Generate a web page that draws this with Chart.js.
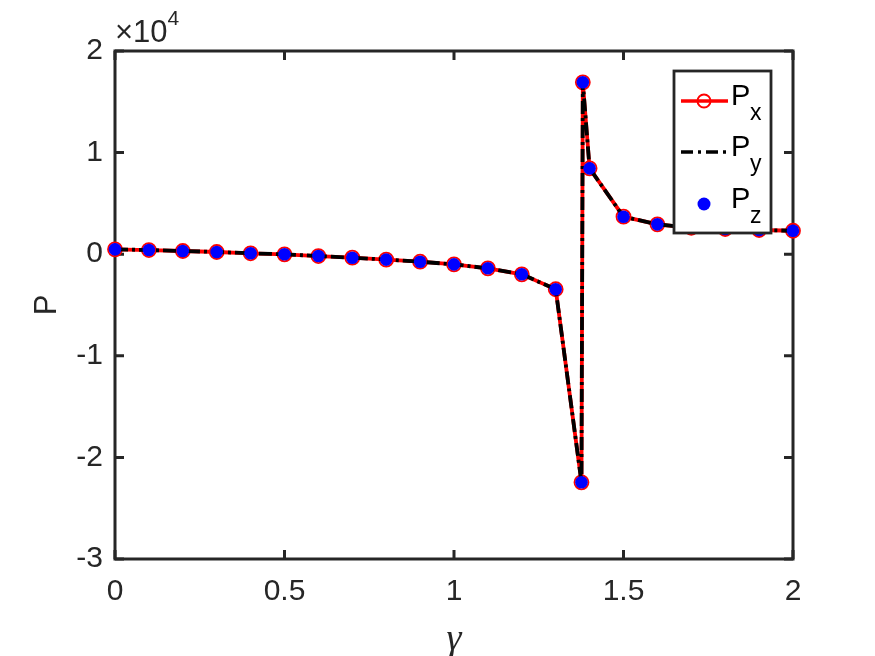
<!DOCTYPE html>
<html>
<head>
<meta charset="utf-8">
<script src="https://cdn.jsdelivr.net/npm/chart.js@4.4.1/dist/chart.umd.min.js"></script>
<style>
  html, body { margin: 0; padding: 0; background: #fff; }
  #wrap { width: 875px; height: 656px; }
</style>
</head>
<body>
<div id="wrap"><canvas id="chart" width="875" height="656"></canvas></div>
<script>
// --- data ---
const gammaVals = [0, 0.1, 0.2, 0.3, 0.4, 0.5, 0.6, 0.7, 0.8, 0.9, 1.0, 1.1, 1.2, 1.3,
                   1.376, 1.38, 1.4, 1.5, 1.6, 1.7, 1.8, 1.9, 2.0];
const pxVals = [480, 410, 315, 217, 90, -10, -180, -345, -530, -740, -1000, -1390, -1980, -3450,
                -22450, 16920, 8450, 3690, 2940, 2600, 2480, 2380, 2310];
const pyVals = [480, 410, 315, 217, 90, -10, -180, -345, -530, -740, -1000, -1390, -1980, -3450,
                -22450, 16920, 8450, 3690, 2940, 2600, 2480, 2380, 2310];
const pzVals = [480, 410, 315, 217, 90, -10, -180, -345, -530, -740, -1000, -1390, -1980, -3450,
                -22450, 16920, 8450, 3690, 2940, 2600, 2480, 2380, 2310];
const xTicks = [0, 0.5, 1, 1.5, 2];
const yTicks = [-30000, -20000, -10000, 0, 10000, 20000];
const yScaleExp = 4;

const AXIS_COLOR = '#262626';
const FONT = '"Liberation Sans", Arial, sans-serif';

const toPts = (vals) => gammaVals.map((g, i) => ({ x: g, y: vals[i] }));

// frame + inward ticks, drawn under the data (markers sit on top of the box)
const framePlugin = {
    id: 'frame',
    beforeDatasetsDraw(chart) {
        const { ctx, chartArea: a, scales } = chart;
        ctx.save();
        ctx.strokeStyle = AXIS_COLOR;
        ctx.lineWidth = 3;
        ctx.strokeRect(a.left, a.top, a.right - a.left, a.bottom - a.top);
        const tl = 9;
        ctx.beginPath();
        xTicks.forEach(v => {
            const x = scales.x.getPixelForValue(v);
            ctx.moveTo(x, a.bottom); ctx.lineTo(x, a.bottom - tl);
            ctx.moveTo(x, a.top); ctx.lineTo(x, a.top + tl);
        });
        yTicks.forEach(v => {
            const y = scales.y.getPixelForValue(v);
            ctx.moveTo(a.left, y); ctx.lineTo(a.left + tl, y);
            ctx.moveTo(a.right, y); ctx.lineTo(a.right - tl, y);
        });
        ctx.stroke();
        ctx.restore();
    },
    afterDraw(chart) {
        const { ctx, chartArea: a } = chart;
        ctx.save();
        ctx.fillStyle = AXIS_COLOR;
        // x10^4 multiplier
        ctx.font = '31px ' + FONT;
        ctx.textBaseline = 'alphabetic';
        ctx.textAlign = 'left';
        ctx.fillText('\u00d710', a.left, 42);
        const w = ctx.measureText('\u00d710').width;
        ctx.font = '21px ' + FONT;
        ctx.fillText(String(yScaleExp), a.left + w, 25);

        // y title
        ctx.save();
        ctx.font = '31px ' + FONT;
        ctx.translate(56, (a.top + a.bottom) / 2);
        ctx.rotate(-Math.PI / 2);
        ctx.textAlign = 'center';
        ctx.fillText('P', 0, 0);
        ctx.restore();

        // x title
        ctx.font = 'italic 38px "Liberation Serif", "Times New Roman", serif';
        ctx.textAlign = 'center';
        ctx.fillText('\u03b3', (a.left + a.right) / 2, 650);

        // legend
        const bx = 674, by = 71, bw = 97, bh = 162;
        ctx.fillStyle = '#fff';
        ctx.fillRect(bx, by, bw, bh);
        ctx.strokeStyle = AXIS_COLOR;
        ctx.lineWidth = 2.8;
        ctx.strokeRect(bx, by, bw, bh);

        const rows = [
            { sub: 'x', ly: 101 },
            { sub: 'y', ly: 152 },
            { sub: 'z', ly: 204 }
        ];
        // Px sample: red line with open circle
        ctx.strokeStyle = 'red';
        ctx.lineWidth = 3.4;
        ctx.beginPath(); ctx.moveTo(681, rows[0].ly); ctx.lineTo(728, rows[0].ly); ctx.stroke();
        ctx.lineWidth = 2;
        ctx.beginPath(); ctx.arc(704, rows[0].ly, 6.5, 0, Math.PI * 2); ctx.stroke();
        // Py sample: black dash-dot
        ctx.strokeStyle = '#000';
        ctx.lineWidth = 3.6;
        ctx.setLineDash([12, 5, 3, 5]);
        ctx.beginPath(); ctx.moveTo(681, rows[1].ly); ctx.lineTo(728, rows[1].ly); ctx.stroke();
        ctx.setLineDash([]);
        // Pz sample: blue dot
        ctx.fillStyle = 'blue';
        ctx.beginPath(); ctx.arc(704, rows[2].ly, 6.5, 0, Math.PI * 2); ctx.fill();

        ctx.fillStyle = '#000';
        ctx.textAlign = 'left';
        rows.forEach(r => {
            ctx.font = '29px ' + FONT;
            ctx.fillText('P', 731, r.ly + 4);
            ctx.font = '23px ' + FONT;
            ctx.fillText(r.sub, 750, r.ly + 19);
        });
        ctx.restore();
    }
};

new Chart(document.getElementById('chart'), {
    type: 'scatter',
    data: {
        datasets: [
            {
                label: 'Px',
                data: toPts(pxVals),
                showLine: true,
                borderColor: 'red',
                borderWidth: 3.8,
                pointRadius: 7,
                pointBorderWidth: 1.8,
                pointBorderColor: 'red',
                pointBackgroundColor: 'rgba(0,0,0,0)',
                tension: 0,
                clip: false,
                order: 3
            },
            {
                label: 'Py',
                data: toPts(pyVals),
                showLine: true,
                borderColor: '#000',
                borderWidth: 3.8,
                borderDash: [13, 4, 3, 4],
                pointRadius: 0,
                tension: 0,
                clip: false,
                order: 2
            },
            {
                label: 'Pz',
                data: toPts(pzVals),
                showLine: false,
                pointRadius: 6.3,
                pointBorderWidth: 0,
                pointBackgroundColor: 'blue',
                pointBorderColor: 'blue',
                clip: false,
                order: 1
            }
        ]
    },
    options: {
        responsive: false,
        animation: false,
        devicePixelRatio: 1,
        layout: { padding: { top: 51, right: 82, left: 0, bottom: 0 } },
        plugins: {
            legend: { display: false },
            tooltip: { enabled: false }
        },
        scales: {
            x: {
                type: 'linear',
                min: 0, max: 2,
                afterFit(scale) { scale.height = 97; },
                afterBuildTicks(scale) { scale.ticks = xTicks.map(v => ({ value: v })); },
                grid: { display: false, drawTicks: false },
                border: { display: false },
                ticks: {
                    color: AXIS_COLOR,
                    font: { family: FONT, size: 30 },
                    padding: 15,
                    maxRotation: 0,
                    callback: (v) => String(v)
                }
            },
            y: {
                type: 'linear',
                min: -30000, max: 20000,
                afterFit(scale) { scale.width = 115; },
                afterBuildTicks(scale) { scale.ticks = yTicks.map(v => ({ value: v })); },
                grid: { display: false, drawTicks: false },
                border: { display: false },
                ticks: {
                    color: AXIS_COLOR,
                    font: { family: FONT, size: 30 },
                    padding: 12,
                    callback: (v) => String(v / Math.pow(10, yScaleExp))
                }
            }
        }
    },
    plugins: [framePlugin]
});
</script>
</body>
</html>
